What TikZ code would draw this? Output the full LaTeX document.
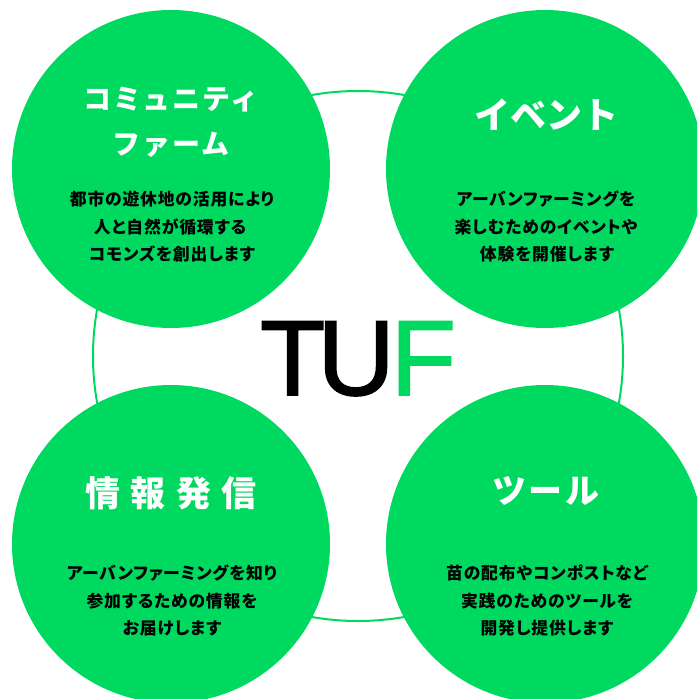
\documentclass[tikz,border=0pt]{standalone}
\usepackage{fontspec}
\setmainfont{Liberation Sans}
\newfontfamily\jpfont{Noto Sans CJK JP}
\newfontfamily\jpbody{Noto Sans CJK JP}[LetterSpace=5,RawFeature=+palt]
\definecolor{tufgreen}{RGB}{0,217,95}
\tikzset{
  ring/.style={draw=tufgreen, line width=2pt},
  bubble/.style={fill=tufgreen},
  ttl/.style={anchor=base, inner sep=0pt, text=white},
  body/.style={anchor=base, inner sep=0pt, text=black, font=\jpbody\bfseries\fontsize{16.8}{17}\selectfont},
}
\begin{document}
\begin{tikzpicture}[x=1pt,y=-1pt]
\useasboundingbox (0,0) rectangle (697,699);
\clip (0,0) rectangle (697,699);
\fill[white] (0,0) rectangle (697,699);
% big ring
\draw[ring] (358,356) circle[radius=265];
% four circles
\fill[bubble] (171,169) circle[radius=159];
\fill[bubble] (545,169) circle[radius=159];
\fill[bubble] (171,544) circle[radius=159];
\fill[bubble] (545,544) circle[radius=159];
% centre logo
\node[anchor=base, inner sep=0pt, font=\addfontfeature{FakeBold=1.5}\fontsize{107}{107}\selectfont] (logo) at (358,395)
  {T\kern-8pt U\kern-4pt\textcolor{tufgreen}{F}};
% top-left
\node[ttl, font=\jpfont\bfseries\addfontfeature{LetterSpace=6}\fontsize{28}{28}\selectfont] (t1a) at (171,109.6) {コミュニティ};
\node[ttl, font=\jpfont\bfseries\addfontfeature{LetterSpace=6}\fontsize{28}{28}\selectfont] (t1b) at (171,154) {ファーム};
\node[body] (b1a) at (172,205.3) {都市の遊休地の活用により};
\node[body] (b1b) at (170,233.3) {人と自然が循環する};
\node[body] (b1c) at (172,260.5) {コモンズを創出します};
% top-right
\node[ttl, font=\jpfont\bfseries\fontsize{36}{36}\selectfont] (t2) at (546,128.7) {イベント};
\node[body] (b2a) at (546,205.3) {アーバンファーミングを};
\node[body] (b2b) at (546,233.3) {楽しむためのイベントや};
\node[body] (b2c) at (547,260.5) {体験を開催します};
% bottom-left
\node[ttl, font=\jpfont\bfseries\addfontfeature{LetterSpace=30}\fontsize{35}{35}\selectfont] (t3) at (171,506.8) {情報発信};
\node[body] (b3a) at (172,579.6) {アーバンファーミングを知り};
\node[body] (b3b) at (172,607) {参加するための情報を};
\node[body] (b3c) at (172,634.5) {お届けします};
% bottom-right
\node[ttl, font=\jpfont\bfseries\addfontfeature{LetterSpace=8}\fontsize{34}{34}\selectfont] (t4) at (546,503.7) {ツール};
\node[body] (b4a) at (547,579.6) {苗の配布やコンポストなど};
\node[body] (b4b) at (547,607) {実践のためのツールを};
\node[body] (b4c) at (547,634.5) {開発し提供します};
\end{tikzpicture}
\end{document}
